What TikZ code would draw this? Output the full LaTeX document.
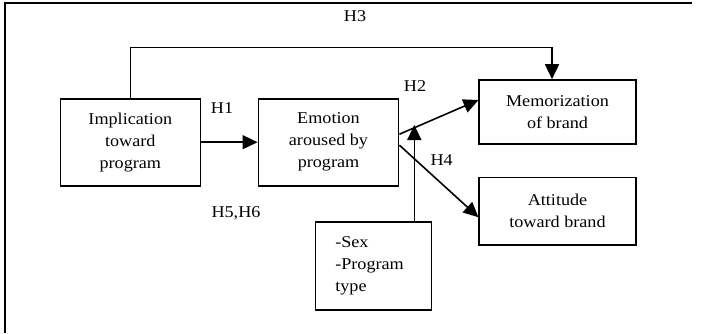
\documentclass[tikz,border=0pt]{standalone}
\usepackage{fontspec}
\setmainfont{Liberation Serif}[FakeStretch=1.1]
\usetikzlibrary{arrows.meta}
\begin{document}
\begin{tikzpicture}[x=1pt,y=-1pt,
  font=\fontsize{16.5}{22}\selectfont,
  box/.style={draw,line width=1.6pt,inner sep=0pt,align=center},
  arr/.style={line width=1.6pt,-{Triangle[length=15pt,width=14pt]}},
  lbl/.style={inner sep=0pt}]
\useasboundingbox (0,0) rectangle (701,333);
\draw[line width=2pt] (5,333) -- (5,2.7) -- (692,2.7);
\node[box,minimum width=140pt,minimum height=87pt] (impl) at (130.3,142.2) {Implication\\toward\\program};
\node[box,minimum width=140.3pt,minimum height=87pt] (emo) at (328.5,142.2) {Emotion\\aroused by\\program};
\node[box,minimum width=156.5pt,minimum height=64pt] (mem) at (557.5,112) {Memorization\\of brand};
\node[box,minimum width=156.5pt,minimum height=67.7pt] (att) at (557.5,211.2) {Attitude\\toward brand};
\node[box,minimum height=88pt,text width=76pt,inner xsep=20pt,align=left] (sex) at (373.3,266.2) {-Sex\\-Program\\type};
\coordinate (modtip) at (414.3,125);
\draw[arr] (impl.east) -- (emo.west);
\draw[arr] (impl.north) -- ++(0,-50.4) -| ([xshift=-5.5pt]mem.north);
\draw[arr] ([yshift=8pt]emo.east) -- ([yshift=12pt]mem.west);
\draw[arr] ([yshift=-3pt]emo.east) -- ([yshift=-6pt]att.west);
\draw[arr] ([xshift=41pt]sex.north) -- (modtip);
\node[lbl] (h3) at (355,15.7) {H3};
\node[lbl] (h1) at (222,108) {H1};
\node[lbl] (h2) at (415,86) {H2};
\node[lbl] (h4) at (441.7,160) {H4};
\node[lbl,anchor=base] (h56) at (236,217) {H5,H6};
\end{tikzpicture}
\end{document}
